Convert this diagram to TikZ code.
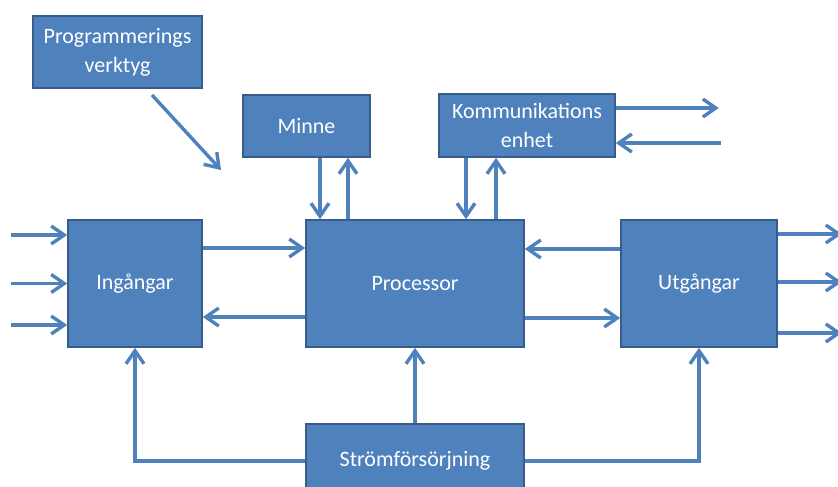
\documentclass[tikz,border=0pt]{standalone}
\usepackage{fontspec}
\setmainfont{Carlito}
\usetikzlibrary{arrows.meta}
\definecolor{blockfill}{HTML}{4F81BD}
\definecolor{blockline}{HTML}{385D8A}
\tikzset{
  block/.style={draw=blockline, line width=0.8pt, fill=blockfill, text=white,
    align=center, inner sep=0pt, font=\fontsize{11}{14.5}\selectfont},
  pil/.style={draw=blockfill, line width=1.7pt, -{Straight Barb[length=6.5pt,width=9pt]}}
}

\begin{document}
\begin{tikzpicture}[x=0.5pt,y=-0.5pt]
	\useasboundingbox (0,0) rectangle (838,486);
	% block
	\node[block, minimum width=84.5pt, minimum height=36pt] (prog) at (117.5,52) {Programmerings\\verktyg};
	\node[block, minimum width=63.5pt, minimum height=31pt] (minne) at (306.5,126) {Minne};
	\node[block, minimum width=88pt, minimum height=31.5pt] (komm) at (527,125.5) {Kommunikations\\enhet};
	\node[block, minimum width=67pt, minimum height=63.5pt] (ing) at (135,283.5) {Ingångar};
	\node[block, minimum width=109pt, minimum height=63.5pt] (proc) at (415,283.5) {Processor};
	\node[block, minimum width=78pt, minimum height=63.5pt] (utg) at (699,283.5) {Utgångar};
	\node[block, minimum width=109pt, minimum height=37pt] (strom) at (415,461) {Strömförsörjning};
	% pilar
	\coordinate (pstart) at (152,95);
	\coordinate (pend) at (221,170);
	\draw[pil] (pstart) -- (pend);
	\draw[pil] ([xshift=6.75pt]minne.south) -- ([xshift=6.75pt]minne.south |- proc.north);
	\draw[pil] ([xshift=20.75pt]minne.south |- proc.north) -- ([xshift=20.75pt]minne.south);
	\draw[pil] ([xshift=-30.5pt]komm.south) -- ([xshift=-30.5pt]komm.south |- proc.north);
	\draw[pil] ([xshift=-15.5pt]komm.south |- proc.north) -- ([xshift=-15.5pt]komm.south);
	\coordinate (kut) at ([xshift=51.5pt,yshift=8.75pt]komm.east);
	\coordinate (kin) at ([xshift=52.5pt,yshift=-8.75pt]komm.east);
	\draw[pil] ([yshift=8.75pt]komm.east) -- (kut);
	\draw[pil] (kin) -- ([yshift=-8.75pt]komm.east);
	\foreach \dy in {24.25,0,-20.75}
		\draw[pil] ([xshift=-28pt,yshift=\dy pt]ing.west) -- ([yshift=\dy pt]ing.west);
	\foreach \dy in {24.75,0.75,-24.75}
		\draw[pil] ([yshift=\dy pt]utg.east) -- ([xshift=32pt,yshift=\dy pt]utg.east);
	\draw[pil] ([yshift=17.75pt]ing.east) -- ([yshift=17.75pt]proc.west);
	\draw[pil] ([yshift=-16.75pt]proc.west) -- ([yshift=-16.75pt]ing.east);
	\draw[pil] ([yshift=17.25pt]utg.west) -- ([yshift=17.25pt]proc.east);
	\draw[pil] ([yshift=-17.25pt]proc.east) -- ([yshift=-17.25pt]utg.west);
	\draw[pil] (strom.north) -- (proc.south);
	\draw[pil] (strom.west) -| (ing.south);
	\draw[pil] (strom.east) -| (utg.south);
\end{tikzpicture}
\end{document}
